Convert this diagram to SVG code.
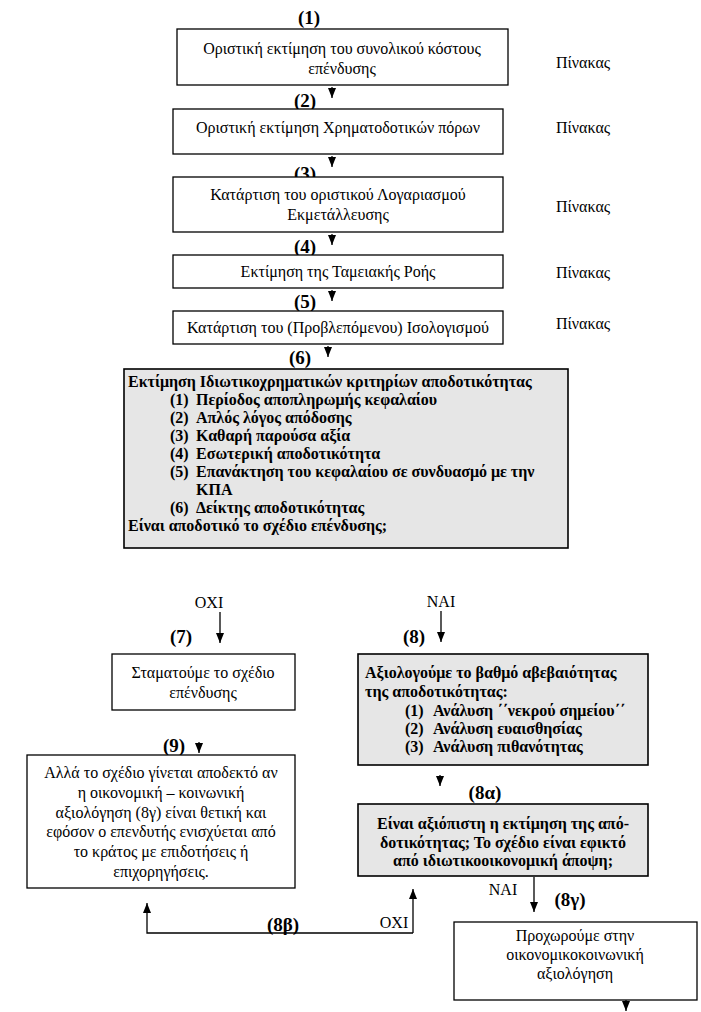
<svg xmlns="http://www.w3.org/2000/svg" width="701" height="1012" viewBox="0 0 701 1012">
<style>
.box{fill:#fff;stroke:#000;stroke-width:1.3}
.gbox{fill:#e6e6e6;stroke:#000;stroke-width:1.6}
text{font-family:"Liberation Serif","DejaVu Serif",serif;font-size:16px;fill:#000}
.c{text-anchor:middle}
.b{font-weight:bold}
.n{font-weight:bold;font-size:19px;text-anchor:middle}
.ln{stroke:#000;stroke-width:1.3;fill:none}
</style>
<defs>
<marker id="ah" viewBox="0 0 10 8" refX="10" refY="4" markerWidth="10" markerHeight="8" markerUnits="userSpaceOnUse" orient="auto">
<path d="M0,0 L10,4 L0,8 z" fill="#000"/>
</marker>
</defs>
<rect width="701" height="1012" fill="#fff"/>

<g id="connectors">
<line class="ln" x1="332" y1="87" x2="332" y2="98" marker-end="url(#ah)"/>
<line class="ln" x1="332" y1="156" x2="332" y2="167" marker-end="url(#ah)"/>
<line class="ln" x1="332" y1="234" x2="332" y2="245" marker-end="url(#ah)"/>
<line class="ln" x1="332" y1="290" x2="332" y2="301" marker-end="url(#ah)"/>
<line class="ln" x1="328" y1="346" x2="328" y2="357" marker-end="url(#ah)"/>
<line class="ln" x1="220" y1="612" x2="220" y2="643" marker-end="url(#ah)"/>
<line class="ln" x1="441" y1="611" x2="441" y2="642" marker-end="url(#ah)"/>
<line class="ln" x1="199" y1="742" x2="199" y2="753" marker-end="url(#ah)"/>
<line class="ln" x1="440" y1="775" x2="440" y2="786" marker-end="url(#ah)"/>
<line class="ln" x1="534" y1="877" x2="534" y2="912" marker-end="url(#ah)"/>
<line class="ln" x1="626" y1="1000" x2="626" y2="1011" marker-end="url(#ah)"/>
<polyline class="ln" points="413,933 413,889" marker-end="url(#ah)"/>
<polyline class="ln" points="413,933 147,933 147,903" marker-end="url(#ah)"/>
</g>

<g id="labels">
<text class="n" x="309" y="24">(1)</text>
<text class="n" x="305" y="107">(2)</text>
<text class="n" x="305" y="180">(3)</text>
<text class="n" x="305" y="253">(4)</text>
<text class="n" x="305" y="308">(5)</text>
<text class="n" x="300" y="364">(6)</text>
<text class="n" x="181" y="643">(7)</text>
<text class="n" x="414" y="643">(8)</text>
<text class="n" x="174" y="752">(9)</text>
<text class="n" x="485" y="799">(8α)</text>
<text class="n" x="570" y="906">(8γ)</text>
<text class="n" x="283" y="931">(8β)</text>
<text class="c" x="209" y="608">ΟΧΙ</text>
<text class="c" x="441" y="607">ΝΑΙ</text>
<text class="c" x="503" y="895">ΝΑΙ</text>
<text class="c" x="394" y="928">ΟΧΙ</text>
<text x="556" y="68">Πίνακας</text>
<text x="556" y="133">Πίνακας</text>
<text x="556" y="212">Πίνακας</text>
<text x="556" y="278">Πίνακας</text>
<text x="556" y="329">Πίνακας</text>
</g>

<g id="n1">
<rect class="box" x="177" y="29" width="331" height="56"/>
<text class="c" x="342" y="54">Οριστική εκτίμηση του συνολικού κόστους</text>
<text class="c" x="342" y="74">επένδυσης</text>
</g>
<g id="n2">
<rect class="box" x="173" y="109" width="330" height="45"/>
<text class="c" x="338" y="133">Οριστική εκτίμηση Χρηματοδοτικών πόρων</text>
</g>
<g id="n3">
<rect class="box" x="173" y="177" width="330" height="55"/>
<text class="c" x="338" y="200">Κατάρτιση του οριστικού Λογαριασμού</text>
<text class="c" x="338" y="220">Εκμετάλλευσης</text>
</g>
<g id="n4">
<rect class="box" x="173" y="255" width="330" height="33"/>
<text class="c" x="338" y="277">Εκτίμηση της Ταμειακής Ροής</text>
</g>
<g id="n5">
<rect class="box" x="173" y="311" width="330" height="33"/>
<text class="c" x="338" y="333">Κατάρτιση του (Προβλεπόμενου) Ισολογισμού</text>
</g>
<g id="n6">
<rect class="gbox" x="124" y="369" width="444" height="179"/>
<text class="b" x="128" y="387">Εκτίμηση Ιδιωτικοχρηματικών κριτηρίων αποδοτικότητας</text>
<text class="b" x="170" y="405">(1)</text><text class="b" x="196" y="405">Περίοδος αποπληρωμής κεφαλαίου</text>
<text class="b" x="170" y="423">(2)</text><text class="b" x="196" y="423">Απλός λόγος απόδοσης</text>
<text class="b" x="170" y="441">(3)</text><text class="b" x="196" y="441">Καθαρή παρούσα αξία</text>
<text class="b" x="170" y="459">(4)</text><text class="b" x="196" y="459">Εσωτερική αποδοτικότητα</text>
<text class="b" x="170" y="477">(5)</text><text class="b" x="196" y="477">Επανάκτηση του κεφαλαίου σε συνδυασμό με την</text>
<text class="b" x="196" y="495">ΚΠΑ</text>
<text class="b" x="170" y="513">(6)</text><text class="b" x="196" y="513">Δείκτης αποδοτικότητας</text>
<text class="b" x="128" y="531">Είναι αποδοτικό το σχέδιο επένδυσης;</text>
</g>
<g id="n7">
<rect class="box" x="112" y="654" width="183" height="56"/>
<text class="c" x="203" y="678">Σταματούμε το σχέδιο</text>
<text class="c" x="203" y="698">επένδυσης</text>
</g>
<g id="n9">
<rect class="box" x="27" y="755" width="268" height="133"/>
<text class="c" x="161" y="778">Αλλά το σχέδιο γίνεται αποδεκτό αν</text>
<text class="c" x="161" y="798">η οικονομική – κοινωνική</text>
<text class="c" x="161" y="818">αξιολόγηση (8γ) είναι θετική και</text>
<text class="c" x="161" y="837">εφόσον ο επενδυτής ενισχύεται από</text>
<text class="c" x="161" y="857">το κράτος με επιδοτήσεις ή</text>
<text class="c" x="161" y="877">επιχορηγήσεις.</text>
</g>
<g id="n8">
<rect class="gbox" x="358" y="654" width="290" height="111"/>
<text class="b" x="365" y="678">Αξιολογούμε το βαθμό αβεβαιότητας</text>
<text class="b" x="365" y="697">της αποδοτικότητας:</text>
<text class="b" x="405" y="716">(1)</text><text class="b" x="433" y="716">Ανάλυση ΄΄νεκρού σημείου΄΄</text>
<text class="b" x="405" y="734">(2)</text><text class="b" x="433" y="734">Ανάλυση ευαισθησίας</text>
<text class="b" x="405" y="752">(3)</text><text class="b" x="433" y="752">Ανάλυση πιθανότητας</text>
</g>
<g id="n8a">
<rect class="gbox" x="358" y="804" width="290" height="72"/>
<text class="b c" x="503" y="829">Είναι αξιόπιστη η εκτίμηση της από-</text>
<text class="b c" x="503" y="848">δοτικότητας; Το σχέδιο είναι εφικτό</text>
<text class="b c" x="503" y="866">από ιδιωτικοοικονομική άποψη;</text>
</g>
<g id="n8g">
<rect class="box" x="454" y="922" width="243" height="78"/>
<text class="c" x="575" y="941">Προχωρούμε στην</text>
<text class="c" x="575" y="960">οικονομικοκοινωνική</text>
<text class="c" x="575" y="979">αξιολόγηση</text>
</g>
</svg>
